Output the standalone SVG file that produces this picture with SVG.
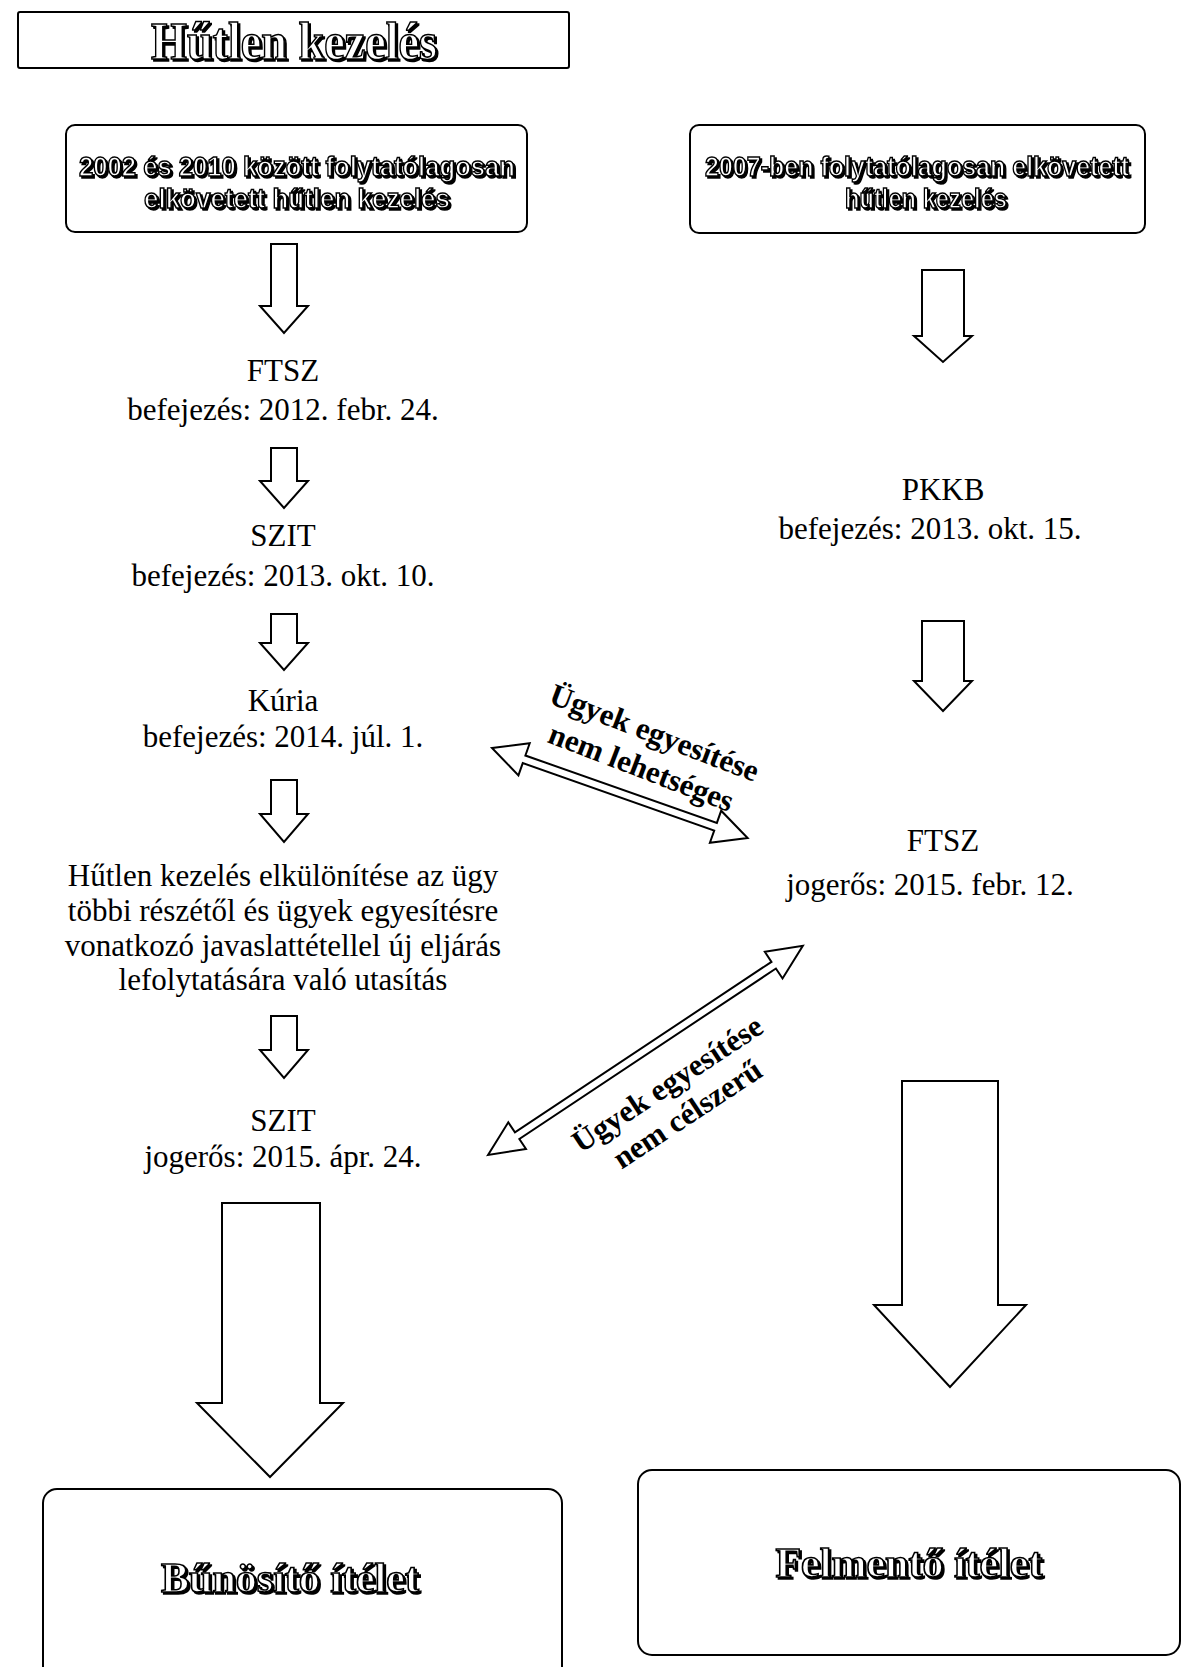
<svg xmlns="http://www.w3.org/2000/svg" width="1183" height="1667" viewBox="0 0 1183 1667">
<defs>
<style>
.box{fill:#fff;stroke:#000;stroke-width:2}
.arr{fill:#fff;stroke:#000;stroke-width:2;stroke-linejoin:miter}
.t{font-family:"Liberation Serif","Times New Roman",serif;font-size:31px;fill:#000;text-anchor:middle}
.lbl{font-family:"Liberation Serif","Times New Roman",serif;font-size:31px;font-weight:bold;fill:#000;text-anchor:middle}
.ol{font-family:"Liberation Serif","Times New Roman",serif;font-weight:bold;fill:#fff;stroke:#000;stroke-width:1.6;text-anchor:middle;filter:url(#sh)}
.os{font-family:"Liberation Sans",Arial,sans-serif;font-weight:bold;font-size:28px;fill:#fff;stroke:#000;stroke-width:1.5;text-anchor:middle;filter:url(#sh)}
</style>
<filter id="sh" x="-5%" y="-20%" width="110%" height="140%">
<feOffset in="SourceAlpha" dx="1.5" dy="1.5" result="o"/>
<feMerge><feMergeNode in="o"/><feMergeNode in="SourceGraphic"/></feMerge>
</filter>
</defs>
<rect width="1183" height="1667" fill="#fff"/>

<g id="title">
<rect class="box" x="18" y="12" width="551" height="56" rx="2"/>
<text class="ol" x="294" y="59" font-size="53" textLength="286" lengthAdjust="spacingAndGlyphs">Hűtlen kezelés</text>
</g>

<g id="box-left">
<rect class="box" x="66" y="125" width="461" height="107" rx="9"/>
<text class="os" x="297" y="176" textLength="436" lengthAdjust="spacingAndGlyphs">2002 és 2010 között folytatólagosan</text>
<text class="os" x="297" y="208" textLength="306" lengthAdjust="spacingAndGlyphs">elkövetett hűtlen kezelés</text>
</g>

<g id="box-right">
<rect class="box" x="690" y="125" width="455" height="108" rx="9"/>
<text class="os" x="917" y="176" font-size="25.5px" textLength="424" lengthAdjust="spacingAndGlyphs">2007-ben folytatólagosan elkövetett</text>
<text class="os" x="926" y="208" textLength="162" lengthAdjust="spacingAndGlyphs">hűtlen kezelés</text>
</g>

<g id="ftsz1">
<text class="t" x="283" y="381">FTSZ</text>
<text class="t" x="283" y="420">befejezés: 2012. febr. 24.</text>
</g>
<g id="szit1">
<text class="t" x="283" y="546">SZIT</text>
<text class="t" x="283" y="586">befejezés: 2013. okt. 10.</text>
</g>
<g id="kuria">
<text class="t" x="283" y="711">Kúria</text>
<text class="t" x="283" y="747">befejezés: 2014. júl. 1.</text>
</g>
<g id="elkulonites">
<text class="t" x="283" y="886">Hűtlen kezelés elkülönítése az ügy</text>
<text class="t" x="283" y="921">többi részétől és ügyek egyesítésre</text>
<text class="t" x="283" y="956">vonatkozó javaslattétellel új eljárás</text>
<text class="t" x="283" y="990">lefolytatására való utasítás</text>
</g>
<g id="szit2">
<text class="t" x="283" y="1131">SZIT</text>
<text class="t" x="283" y="1167">jogerős: 2015. ápr. 24.</text>
</g>
<g id="pkkb">
<text class="t" x="943" y="500">PKKB</text>
<text class="t" x="930" y="539">befejezés: 2013. okt. 15.</text>
</g>
<g id="ftsz2">
<text class="t" x="943" y="851">FTSZ</text>
<text class="t" x="930" y="895">jogerős: 2015. febr. 12.</text>
</g>

<g id="result-left">
<rect class="box" x="43" y="1489" width="519" height="200" rx="14"/>
<text class="ol" x="290" y="1592" font-size="42">Bűnösítő ítélet</text>
</g>
<g id="result-right">
<rect class="box" x="638" y="1470" width="542" height="185" rx="14"/>
<text class="ol" x="909" y="1577" font-size="42">Felmentő ítélet</text>
</g>

<g id="connectors">
<!-- left column small arrows -->
<path class="arr" d="M271,244 H297 V306 H308 L284,333 L260,306 H271 Z"/>
<path class="arr" d="M271,448 H297 V481 H308 L284,508 L260,481 H271 Z"/>
<path class="arr" d="M271,614 H297 V643 H308 L284,670 L260,643 H271 Z"/>
<path class="arr" d="M271,780 H297 V814 H308 L284,842 L260,814 H271 Z"/>
<path class="arr" d="M271,1016 H297 V1050 H308 L284,1078 L260,1050 H271 Z"/>
<!-- right column small arrows -->
<path class="arr" d="M922,270 H964 V336 H972 L943,362 L914,336 H922 Z"/>
<path class="arr" d="M922,621 H964 V681 H972 L943,711 L914,681 H922 Z"/>
<!-- big arrows -->
<path class="arr" d="M222,1203 H320 V1403 H343 L270,1477 L197,1403 H222 Z"/>
<path class="arr" d="M902,1081 H998 V1305 H1026 L950,1387 L874,1305 H902 Z"/>
<!-- double arrows -->
<path class="arr" transform="translate(492,748) rotate(19.4)" d="M0,0 L34,-17 L34,-4 L237,-4 L237,-17 L271,0 L237,17 L237,4 L34,4 L34,17 Z"/>
<path class="arr" transform="translate(488,1155) rotate(-33.6)" d="M0,0 L35,-16 L35,-4 L343,-4 L343,-16 L378,0 L343,16 L343,4 L35,4 L35,16 Z"/>
</g>

<g id="label-upper" transform="translate(654,734) rotate(21)">
<text class="lbl" x="0" y="9">Ügyek egyesítése</text>
<text class="lbl" x="0" y="46">nem lehetséges</text>
</g>
<g id="label-lower" transform="translate(668,1085) rotate(-33.5)">
<text class="lbl" x="0" y="9">Ügyek egyesítése</text>
<text class="lbl" x="0" y="45">nem célszerű</text>
</g>
</svg>
